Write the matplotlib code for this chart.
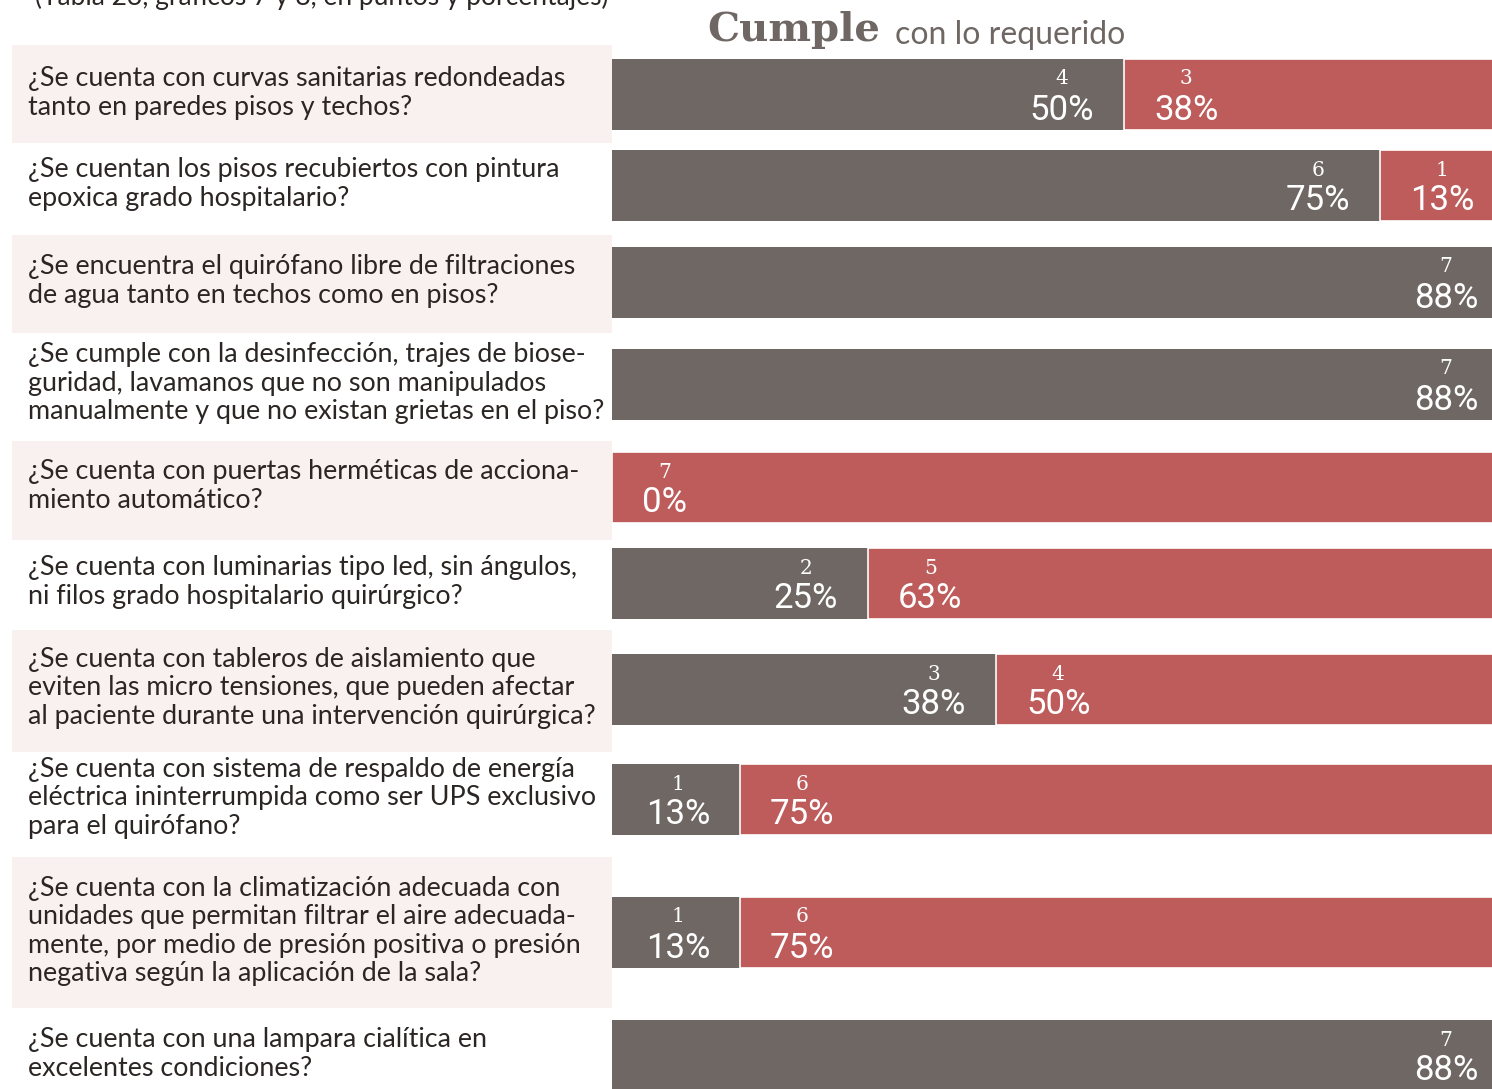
import matplotlib
matplotlib.use("Agg")
from matplotlib import pyplot as plt
from matplotlib.patches import Rectangle

questions = [
    "¿Se cuenta con curvas sanitarias redondeadas\ntanto en paredes pisos y techos?",
    "¿Se cuentan los pisos recubiertos con pintura\nepoxica grado hospitalario?",
    "¿Se encuentra el quirófano libre de filtraciones\nde agua tanto en techos como en pisos?",
    "¿Se cumple con la desinfección, trajes de biose-\nguridad, lavamanos que no son manipulados\nmanualmente y que no existan grietas en el piso?",
    "¿Se cuenta con puertas herméticas de acciona-\nmiento automático?",
    "¿Se cuenta con luminarias tipo led, sin ángulos,\nni filos grado hospitalario quirúrgico?",
    "¿Se cuenta con tableros de aislamiento que\neviten las micro tensiones, que pueden afectar\nal paciente durante una intervención quirúrgica?",
    "¿Se cuenta con sistema de respaldo de energía\neléctrica ininterrumpida como ser UPS exclusivo\npara el quirófano?",
    "¿Se cuenta con la climatización adecuada con\nunidades que permitan filtrar el aire adecuada-\nmente, por medio de presión positiva o presión\nnegativa según la aplicación de la sala?",
    "¿Se cuenta con una lampara cialítica en\nexcelentes condiciones?",
]
total = 8
cumple = [4, 6, 7, 7, 0, 2, 3, 1, 1, 7]
no_cumple = [3, 1, 0, 0, 7, 5, 4, 6, 6, 0]
cumple_pct = ["50%", "75%", "88%", "88%", None, "25%", "38%", "13%", "13%", "88%"]
no_cumple_pct = ["38%", "13%", None, None, "0%", "63%", "50%", "75%", "75%", None]

# layout (pixels of the 1492x1089 picture)
W, H = 1492, 1089
row_y = [94, 185, 282, 384, 487, 583, 689, 799, 932, 1055]
bar_h = 71
bar_x0 = 612
px_per_100 = 1024
shaded = [(45, 143), (235, 333), (441, 540), (630, 752), (857, 1008)]

gray = '#6e6763'
red = '#be5c5c'
pink = '#f8f1f0'
ink = '#2b2624'

fig = plt.figure(figsize=(W / 100, H / 100), dpi=100)
fig.patch.set_facecolor('white')

# background axes in pixel units
bg = fig.add_axes([0, 0, 1, 1])
bg.set_xlim(0, W)
bg.set_ylim(H, 0)
bg.axis('off')

for top, bot in shaded:
    bg.add_patch(Rectangle((12, top), bar_x0 - 12, bot - top, color=pink, lw=0))

for q, y in zip(questions, row_y):
    bg.text(28, y - 1, q, fontsize=19.4, family='Lato', color=ink,
            va='center', ha='left', linespacing=1.18)

bg.text(35, -3, "(Tabla 23, gráficos 7 y 8, en puntos y porcentajes)",
        fontsize=19, family='Lato', color=ink, va='center', ha='left')
bg.text(707, 30, "Cumple", fontsize=29, family='DejaVu Serif', weight='bold',
        color=gray, va='center', ha='left')
bg.text(895, 35, "con lo requerido", fontsize=23, family='Lato',
        color=gray, va='center', ha='left')

# bar axes
ax = fig.add_axes([bar_x0 / W, 0, (W - bar_x0) / W, 1])
ax.set_xlim(0, (W - bar_x0) / px_per_100 * 100)
ax.set_ylim(H, 0)
ax.axis('off')

c_pct = [100 * c / total for c in cumple]
n_pct = [100 * n / total for n in no_cumple]
ax.barh(row_y, c_pct, height=bar_h, color=gray, lw=0)
ax.barh(row_y, n_pct, left=c_pct, height=bar_h, color=red,
        edgecolor='white', lw=1.2)

fig.canvas.draw()
renderer = fig.canvas.get_renderer()
inv = ax.transData.inverted()
pad = 30 / px_per_100 * 100


def add_label(x, y, count, pct, ha):
    t = ax.text(x, y + 16, pct, fontsize=25, family='Roboto', color='white',
                ha=ha, va='center')
    bb = t.get_window_extent(renderer)
    cx = inv.transform(((bb.x0 + bb.x1) / 2, 0))[0]
    ax.text(cx, y - 15, str(count), fontsize=14.5, family='DejaVu Serif',
            color='white', ha='center', va='center')


for i, y in enumerate(row_y):
    if cumple_pct[i] is not None:
        add_label(c_pct[i] - pad, y, cumple[i], cumple_pct[i], 'right')
    if no_cumple_pct[i] is not None:
        add_label(c_pct[i] + pad, y, no_cumple[i], no_cumple_pct[i], 'left')

fig.savefig('out.png', dpi=100, facecolor='white')
